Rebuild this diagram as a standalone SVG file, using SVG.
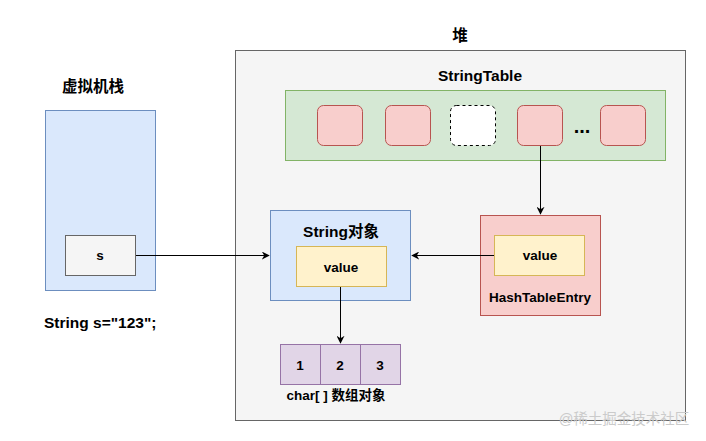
<svg xmlns="http://www.w3.org/2000/svg" width="706" height="441" viewBox="0 0 706 441">
<defs>
<style>
text{font-family:"Liberation Sans","Noto Sans CJK SC",sans-serif;font-weight:bold;fill:#000;text-anchor:middle}
.t12{font-size:13.5px}
.t14{font-size:15.5px}
.gray{fill:#f5f5f5;stroke:#666666;stroke-width:1}
.blue{fill:#dae8fc;stroke:#6c8ebf;stroke-width:1}
.green{fill:#d5e8d4;stroke:#82b366;stroke-width:1}
.red{fill:#f8cecc;stroke:#b85450;stroke-width:1}
.yellow{fill:#fff2cc;stroke:#d6b656;stroke-width:1}
.purple{fill:#e1d5e7;stroke:#9673a6;stroke-width:1}
.edge{fill:none;stroke:#000;stroke-width:1;marker-end:url(#arr)}
</style>
<marker id="arr" viewBox="0 0 10 10" refX="9" refY="5" markerWidth="8" markerHeight="8" markerUnits="userSpaceOnUse" orient="auto">
<path d="M0,0 L10,5 L0,10 L3,5 Z" fill="#000"/>
</marker>
</defs>
<rect width="706" height="441" fill="#ffffff"/>
<g id="heap">
<rect class="gray" x="235.5" y="50.5" width="450" height="370"/>
<text class="t14" x="460" y="41">堆</text>
</g>
<g id="stack">
<text class="t14" x="93" y="92">虚拟机栈</text>
<rect class="blue" x="45.5" y="110.5" width="110" height="180"/>
</g>
<g id="stringtable">
<text class="t14" x="480" y="81">StringTable</text>
<rect class="green" x="285.5" y="90.5" width="380" height="70"/>
<rect class="red" x="317.5" y="105.5" width="45" height="40" rx="6"/>
<rect class="red" x="385.5" y="105.5" width="45" height="40" rx="6"/>
<rect x="450.5" y="105.5" width="45" height="40" rx="6" fill="#ffffff" stroke="#000" stroke-dasharray="3,3"/>
<rect class="red" x="517.5" y="105.5" width="45" height="40" rx="6"/>
<text x="582" y="133" style="font-size:20px">...</text>
<rect class="red" x="600.5" y="105.5" width="45" height="40" rx="6"/>
</g>
<g id="s-var">
<rect class="gray" x="65.5" y="235.5" width="70" height="40"/>
<text class="t12" x="100" y="260">s</text>
</g>
<g id="string-object">
<rect class="blue" x="270.5" y="210.5" width="140" height="90"/>
<text class="t14" x="341" y="237">String对象</text>
<rect class="yellow" x="296.5" y="246.5" width="90" height="40"/>
<text class="t12" x="341" y="272">value</text>
</g>
<g id="hashtableentry">
<rect class="red" x="480.5" y="215.5" width="120" height="100"/>
<rect class="yellow" x="494.5" y="235.5" width="90" height="40"/>
<text class="t12" x="540" y="260">value</text>
<text class="t12" x="540" y="302">HashTableEntry</text>
</g>
<g id="char-array">
<rect class="purple" x="280.5" y="344.5" width="40" height="40"/>
<rect class="purple" x="320.5" y="344.5" width="40" height="40"/>
<rect class="purple" x="360.5" y="344.5" width="40" height="40"/>
<text class="t12" x="300" y="370">1</text>
<text class="t12" x="340" y="370">2</text>
<text class="t12" x="380" y="370">3</text>
<text class="t12" x="336" y="400">char[ ] 数组对象</text>
</g>
<g id="code-label">
<text class="t14" x="44" y="328" style="text-anchor:start">String s="123";</text>
</g>
<g id="connectors">
<path class="edge" d="M540.5,146 L540.5,214"/>
<path class="edge" d="M494,255.5 L412,255.5"/>
<path class="edge" d="M136,255.5 L269,255.5"/>
<path class="edge" d="M340.5,287 L340.5,343"/>
</g>
<text x="624" y="424" style="font-size:14.5px;font-weight:normal;fill:#cbcbcb">@稀土掘金技术社区</text>
</svg>
